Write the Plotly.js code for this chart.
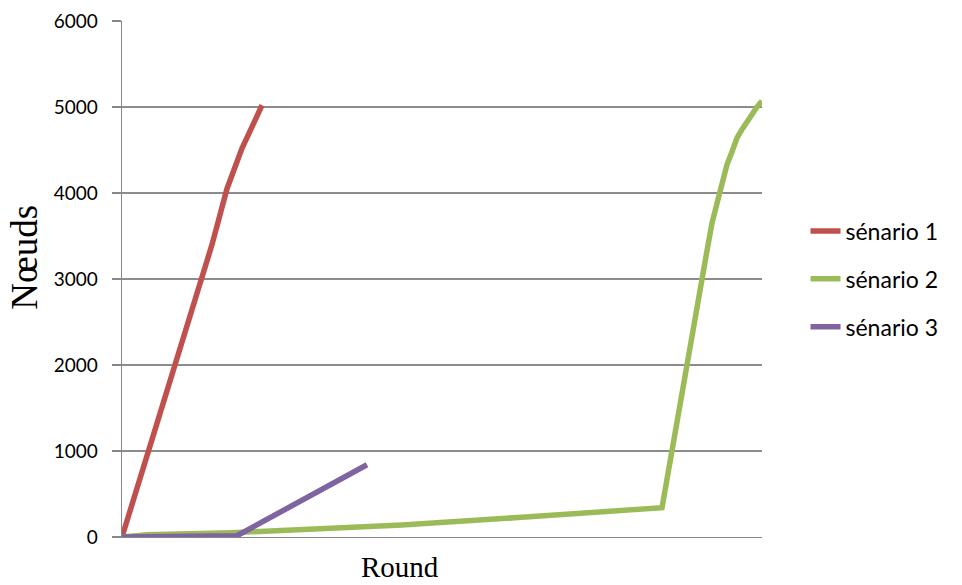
<!DOCTYPE html>
<html>
<head>
<meta charset="utf-8">
<script src="https://cdn.plot.ly/plotly-3.0.1.min.js"></script>
<style>html,body{margin:0;padding:0;background:#fff;}#chart{width:962px;height:585px;}</style>
</head>
<body>
<div id="chart"></div>
<script>
// Data (x = round index, y = nodes)
const seriesNames = ["sénario 1", "sénario 2", "sénario 3"];
const roundsS1 = [0, 18, 21, 24, 28];
const nodesS1  = [0, 3400, 4050, 4520, 5020];
const roundsS2 = [0, 5, 22, 40, 56, 80, 108, 117, 118, 119, 120, 121, 122, 123, 124, 125, 126, 127, 128];
const nodesS2  = [0, 25, 50, 95, 140, 230, 340, 3330, 3650, 3880, 4100, 4330, 4480, 4640, 4740, 4830, 4920, 5000, 5070];
const roundsS3 = [0, 23, 49];
const nodesS3  = [0, 15, 840];
const yTicks = [0, 1000, 2000, 3000, 4000, 5000, 6000];

const colors = ["#C0504D", "#9BBB59", "#8064A2"];
const xs = [roundsS1, roundsS2, roundsS3];
const ys = [nodesS1, nodesS2, nodesS3];

const traces = seriesNames.map((n, i) => ({
  type: "scatter", mode: "lines", name: n,
  x: xs[i], y: ys[i], legendgroup: "g" + i,
  line: {color: colors[i], width: 5.5},
  hoverinfo: "skip"
}));

const layout = {
  width: 962, height: 585,
  margin: {l: 122, r: 200, t: 21, b: 48},
  paper_bgcolor: "#ffffff", plot_bgcolor: "#ffffff",
  showlegend: true,
  legend: {x: 1.068, xanchor: "left", y: 0.5, yanchor: "middle",
           font: {family: "Lato, 'Open Sans', sans-serif", size: 23, color: "#000"},
           traceorder: "grouped", tracegroupgap: 15, bgcolor: "rgba(0,0,0,0)"},
  xaxis: {range: [0, 128], showgrid: false, zeroline: false, showticklabels: false,
          showline: true, linecolor: "#878787", linewidth: 1.3, ticks: "", fixedrange: true},
  yaxis: {range: [0, 6000], tickvals: yTicks, ticktext: yTicks.map(String),
          showgrid: true, gridcolor: "#8c8c8c", gridwidth: 1.3, zeroline: false,
          showline: true, linecolor: "#878787", linewidth: 1.3,
          ticks: "outside", ticklen: 9, tickcolor: "#878787", tickwidth: 1.3,
          ticklabelstandoff: 10,
          tickfont: {family: "Lato, 'Open Sans', sans-serif", size: 19, color: "#000"}},
  annotations: [
    {text: "Round", xref: "paper", yref: "paper", x: 0.434, y: 0, yshift: -30,
     xanchor: "center", yanchor: "middle", showarrow: false,
     font: {family: "'Liberation Serif', 'Times New Roman', serif", size: 29, color: "#000"}},
    {text: "Nœuds", xref: "paper", yref: "paper", x: -0.1516, y: 0.543,
     xanchor: "center", yanchor: "middle", textangle: -90, showarrow: false,
     font: {family: "'Liberation Serif', 'Times New Roman', serif", size: 37, color: "#000"}}
  ]
};

Plotly.newPlot("chart", traces, layout, {displayModeBar: false, staticPlot: true});
</script>
</body>
</html>
